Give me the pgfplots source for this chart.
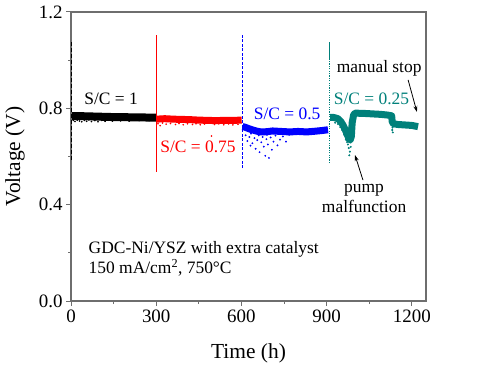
\documentclass[border=0pt]{standalone}
\usepackage{fontspec}
\setmainfont{Liberation Serif}
\usepackage{pgfplots}
\pgfplotsset{compat=1.18}
\usetikzlibrary{arrows.meta}
\definecolor{framegray}{RGB}{110,110,110}
\definecolor{cred}{RGB}{255,0,0}
\definecolor{cblue}{RGB}{0,0,255}
\definecolor{cteal}{RGB}{0,128,122}
\begin{document}
\begin{tikzpicture}
\useasboundingbox (0bp,0bp) rectangle (500bp,370bp);
\begin{axis}[
  at={(71bp,69bp)}, anchor=south west,
  scale only axis, width=355bp, height=289bp,
  xmin=0, xmax=1250, ymin=0, ymax=1.2,
  xtick={0,300,600,900,1200}, xticklabels={0,300,600,900,1200},
  ytick={0,0.4,0.8,1.2}, yticklabels={0.0,0.4,0.8,1.2},
  minor xtick={150,450,750,1050}, minor ytick={0.2,0.6,1.0},
  tick align=outside, tick pos=left,
  major tick length=5bp, minor tick length=3bp,
  axis line style={draw=framegray, line width=1.2bp},
  every tick/.style={draw=framegray, line width=1bp},
  ticklabel style={font=\fontsize{19}{22}\selectfont},
  label style={font=\fontsize{21.5}{24}\selectfont},
  xlabel={Time (h)}, ylabel={Voltage (V)},
  xlabel style={at={(axis description cs:0.5,-0.18)}, anchor=center},
  ylabel style={at={(axis description cs:-0.158,0.5)}, anchor=center},
  /pgf/number format/assume math mode=true,
]
% black
\addplot[black, line width=8bp, line join=round] coordinates {(4,0.768)(20,0.768)(50,0.767)(80,0.766)(110,0.765)(140,0.764)(170,0.764)(200,0.763)(230,0.762)(260,0.762)(299,0.761)};
\addplot[black, only marks, mark=*, mark size=0.6bp] coordinates {(8,0.750)(14,0.745)(22,0.751)(30,0.747)(38,0.744)(47,0.750)(55,0.746)(63,0.752)(72,0.745)(84,0.749)(95,0.744)(108,0.750)(120,0.746)(133,0.751)(146,0.747)(160,0.752)(175,0.748)(190,0.751)(205,0.747)(222,0.752)(240,0.749)(258,0.753)(275,0.749)(290,0.752)};
\addplot[black, line width=1bp, dash pattern=on 4bp off 2bp] coordinates {(2,0.585)(2,1.08)};
% red
\addplot[cred, line width=7bp, line join=round] coordinates {(301,0.755)(330,0.757)(360,0.755)(390,0.754)(420,0.753)(450,0.751)(480,0.750)(510,0.749)(540,0.750)(570,0.750)(601,0.751)};
\addplot[cred, only marks, mark=*, mark size=0.6bp] coordinates {(306,0.736)(314,0.728)(322,0.739)(335,0.734)(350,0.737)(368,0.733)(380,0.737)(395,0.732)(410,0.736)(428,0.733)(440,0.736)(455,0.732)(470,0.735)(495,0.685)(505,0.733)(520,0.736)(538,0.732)(555,0.735)(570,0.731)(588,0.734)};
\addplot[cred, line width=1.3bp] coordinates {(300.5,0.537)(300.5,1.105)};
% blue
\addplot[cblue, line width=7bp, line join=round] coordinates {(604,0.724)(612,0.722)(625,0.716)(640,0.710)(655,0.705)(670,0.702)(690,0.703)(710,0.706)(740,0.704)(770,0.702)(800,0.704)(830,0.702)(860,0.705)(885,0.708)(905,0.711)};
\addplot[cblue, only marks, mark=*, mark size=0.7bp] coordinates {(615,0.688)(621,0.664)(628,0.681)(634,0.695)(639,0.655)(646,0.676)(650,0.632)(656,0.668)(661,0.688)(664,0.618)(670,0.659)(675,0.681)(679,0.641)(684,0.603)(688,0.672)(693,0.650)(697,0.594)(703,0.679)(707,0.628)(713,0.662)(720,0.687)(727,0.646)(736,0.670)(746,0.683)(757,0.662)(768,0.690)(632,0.645)(690,0.690)};
\addplot[cblue, line width=1.2bp, dash pattern=on 3bp off 1.5bp] coordinates {(603,0.552)(603,1.112)};
% teal
\addplot[cteal, line width=7bp, line join=round] coordinates {(912,0.762)(925,0.762)(940,0.757)(950,0.745)(958,0.73)(966,0.71)(973,0.69)(979,0.674)(983,0.668)(987,0.682)(990,0.74)(995,0.772)(1000,0.780)(1030,0.779)(1060,0.777)(1090,0.775)(1115,0.772)(1129,0.769)(1131,0.745)(1135,0.736)(1150,0.733)(1175,0.731)(1200,0.729)(1222,0.724)};
\addplot[cteal, only marks, mark=*, mark size=0.8bp] coordinates {(930,0.74)(940,0.735)(948,0.722)(955,0.71)(962,0.69)(968,0.67)(972,0.66)(975,0.65)(978,0.635)(980,0.605)(982,0.62)(985,0.64)(1131,0.71)(1132,0.72)(1133,0.70)};
\addplot[cteal, line width=1.3bp, dash pattern=on 1.2bp off 1.2bp] coordinates {(909,0.573)(909,1.0)};
\addplot[cteal, line width=1.3bp] coordinates {(909,1.0)(909,1.077)};
% annotations
\node[font=\fontsize{17.5}{20}\selectfont, text=black] at (axis cs:141,0.839) {S/C = 1};
\node[font=\fontsize{17.5}{20}\selectfont, text=cred] at (axis cs:447,0.64) {S/C = 0.75};
\node[font=\fontsize{17.5}{20}\selectfont, text=cblue] at (axis cs:761,0.776) {S/C = 0.5};
\node[font=\fontsize{17.5}{20}\selectfont, text=cteal] at (axis cs:1058,0.839) {S/C = 0.25};
\node[font=\fontsize{17.5}{20}\selectfont] at (axis cs:1085,0.967) {manual stop};
\draw[line width=0.8bp, -{Stealth[length=6bp,width=4bp]}] (axis cs:1187,0.918) -- (axis cs:1218,0.785);
\node[font=\fontsize{17.5}{20}\selectfont, align=center] at (axis cs:1032,0.425) {pump\\malfunction};
\draw[line width=0.8bp, -{Stealth[length=6bp,width=4bp]}] (axis cs:1028,0.502) -- (axis cs:1000,0.606);
\node[font=\fontsize{17.5}{20}\selectfont, anchor=west, align=left] at (axis cs:50,0.176) {GDC-Ni/YSZ with extra catalyst\\150 mA/cm\textsuperscript{2}, 750°C};
\end{axis}
\end{tikzpicture}
\end{document}
